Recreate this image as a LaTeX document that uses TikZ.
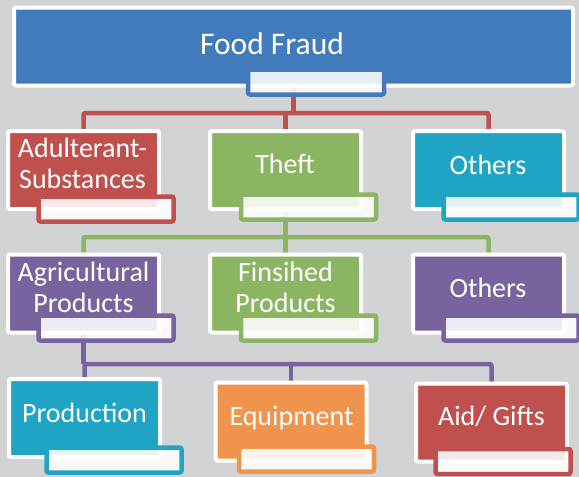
\documentclass[tikz,border=0pt]{standalone}
\usepackage{fontspec}
\setmainfont{Carlito}
\definecolor{bggray}{RGB}{210,211,213}
\definecolor{ffblue}{RGB}{66,123,187}
\definecolor{ffred}{RGB}{192,80,77}
\definecolor{ffgreen}{RGB}{139,181,98}
\definecolor{ffteal}{RGB}{31,165,195}
\definecolor{ffpurple}{RGB}{119,99,157}
\definecolor{fforange}{RGB}{240,147,76}
\pgfdeclarelayer{bg}
\pgfsetlayers{bg,main}
\tikzset{box/.style={draw=white,fill=#1,line width=4pt,rounded corners=2pt,minimum width=151pt,minimum height=78pt,inner sep=0pt},
         tab/.style={draw=#1,fill=white,fill opacity=0.88,line width=4.5pt,rounded corners=2pt,minimum width=135pt,minimum height=25pt,inner sep=0pt},
         link/.style={draw=#1,line width=4.5pt,rounded corners=2pt},
         lbl/.style={text=white,font=\fontsize{28}{31}\selectfont,inner sep=0pt,anchor=base,align=center},
        }

\begin{document}
\begin{tikzpicture}[x=1pt,y=-1pt]
        \useasboundingbox(0,0)rectangle(579,477);

        \node[box=ffblue,minimum width=559pt](ff)at(293.5,46.5){};
        \node[tab=ffblue,minimum width=136pt](fft)at(316,82){};

        \node[box=ffred](adult)at(83.5,170){};
        \node[tab=ffred](adultt)at(106,209){};
        \node[box=ffgreen](theft)at(285.5,170){};
        \node[tab=ffgreen](theftt)at(308.5,207){};
        \node[box=ffteal](oth1)at(488.5,170){};
        \node[tab=ffteal](oth1t)at(511,207){};

        \node[box=ffpurple](agri)at(83.5,293.5){};
        \node[tab=ffpurple](agrit)at(106,328){};
        \node[box=ffgreen](fins)at(285.5,293.5){};
        \node[tab=ffgreen](finst)at(308.5,328){};
        \node[box=ffpurple](oth2)at(488.5,293.5){};
        \node[tab=ffpurple](oth2t)at(511,328){};

        \node[box=ffteal](prod)at(84.5,418){};
        \node[tab=ffteal](prodt)at(114,460){};
        \node[box=fforange](equip)at(291,421.5){};
        \node[tab=fforange](equipt)at(306.5,459){};
        \node[box=ffred](aid)at(491.5,422.5){};
        \node[tab=ffred](aidt)at(503,461.5){};

        \node[lbl,font=\fontsize{31.5}{34}\selectfont](tff)at(272,54){Food Fraud};
        \node[lbl](tadult)at(82.5,188){Adulterant-\\Substances};
        \node[lbl](ttheft)at(285,173){Theft};
        \node[lbl](toth1)at(488,174){Others};
        \node[lbl](tagri)at(83.5,312){Agricultural\\Products};
        \node[lbl](tfins)at(285.5,312){Finsihed\\Products};
        \node[lbl](toth2)at(488,297){Others};
        \node[lbl](tprod)at(84.5,422){Production};
        \node[lbl](tequip)at(291.5,425){Equipment};
        \node[lbl](taid)at(491.5,425){Aid/ Gifts};

        \coordinate(rj)at(293.5,113);
        \coordinate(gj)at(285.5,237);
        \coordinate(pj)at(83.5,364);

        \begin{pgfonlayer}{bg}
        \fill[bggray](0,0)rectangle(579,477);
        \draw[link=ffred](ff|-fft.center)--(rj);
        \draw[link=ffred](adult.north)|-(oth1.north|-rj)--(oth1.north);
        \draw[link=ffred](theft.north)--(theft.north|-rj);
        \draw[link=ffgreen](theft|-theftt.center)--(gj);
        \draw[link=ffgreen](agri.north)|-(oth2.north|-gj)--(oth2.north);
        \draw[link=ffgreen](fins.north)--(gj);
        \draw[link=ffpurple](agri|-agrit.center)--(pj);
        \draw[link=ffpurple](prod.north)|-(aid.north|-pj)--(aid.north);
        \draw[link=ffpurple](equip.north)--(equip.north|-pj);
        \end{pgfonlayer}
    \end{tikzpicture}
\end{document}
